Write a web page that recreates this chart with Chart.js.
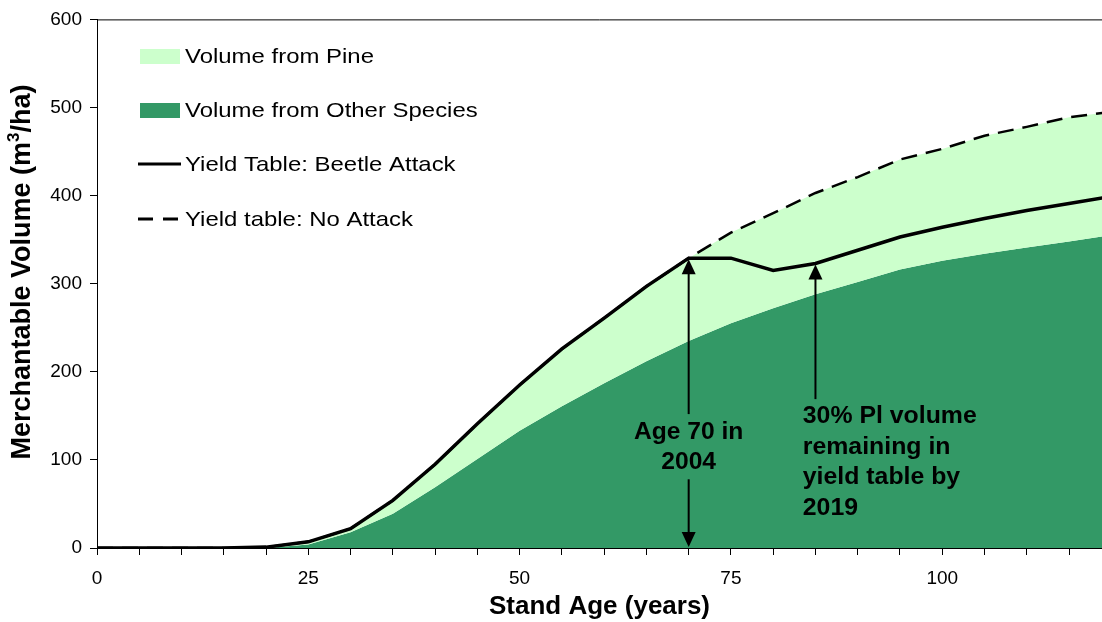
<!DOCTYPE html>
<html>
<head>
<meta charset="utf-8">
<script src="https://cdn.jsdelivr.net/npm/chart.js@4.4.1/dist/chart.umd.min.js"></script>
<style>
  html, body { margin: 0; padding: 0; background: #fff; }
  #chart { display: block; }
</style>
</head>
<body>
<canvas id="chart" width="1102" height="622"></canvas>
<script>
// stand age (years), one point every 5 years
const ages = [0, 5, 10, 15, 20, 25, 30, 35, 40, 45, 50, 55, 60, 65, 70, 75, 80, 85, 90, 95, 100, 105, 110, 115, 120];
// merchantable volume (m3/ha)
const beetleAttack = [0, 0, 0, 0, 1, 7, 22, 54, 95, 141, 185, 226, 261, 297, 329, 329, 315, 323, 338, 353, 364, 374, 383, 391, 399];
const noAttack = [0, 0, 0, 0, 1, 7, 22, 54, 95, 141, 185, 226, 261, 297, 329, 358, 380, 403, 421, 441, 453, 468, 478, 489, 495];
const otherSpecies = [0, 0, 0, 0, 0, 4, 18, 39, 69, 101, 133, 161, 187, 212, 235, 255, 272, 288, 302, 316, 326, 334, 341, 348, 355];

const yTicks = [0, 100, 200, 300, 400, 500, 600];
const xLabelEvery = 25;

const FONT = '"Liberation Sans", Arial, sans-serif';
const PINE = "#ccffcc";
const OTHER = "#339966";

const pts = (vals) => ages.map((a, i) => ({ x: a, y: vals[i] }));

// text a bit wider than the font, like the original export
function wideText(ctx, text, x, y, sx) {
  ctx.save();
  ctx.translate(x, y);
  ctx.scale(sx, 1);
  ctx.fillText(text, 0, 0);
  ctx.restore();
}

// legend drawn inside the plot, y title, arrows and notes
const overlay = {
  id: "overlay",
  afterDatasetsDraw(chart) {
    const { ctx, chartArea } = chart;
    const xs = chart.scales.x;
    const ys = chart.scales.y;
    ctx.save();

    // frame line on top of the plot
    ctx.strokeStyle = "#000";
    ctx.lineWidth = 1;
    ctx.beginPath();
    ctx.moveTo(chartArea.left, chartArea.top + 0.5);
    ctx.lineTo(chartArea.right, chartArea.top + 0.5);
    ctx.stroke();

    // legend
    const items = [
      { text: "Volume from Pine", kind: "box", color: PINE, y: 56 },
      { text: "Volume from Other Species", kind: "box", color: OTHER, y: 110 },
      { text: "Yield Table: Beetle Attack", kind: "line", dash: [], y: 164 },
      { text: "Yield table: No Attack", kind: "line", dash: [15, 10], y: 219 },
    ];
    ctx.font = "21px " + FONT;
    ctx.textBaseline = "middle";
    ctx.textAlign = "left";
    items.forEach((it) => {
      if (it.kind === "box") {
        ctx.fillStyle = it.color;
        ctx.fillRect(140, it.y - 7, 40, 15);
      } else {
        ctx.strokeStyle = "#000";
        ctx.lineWidth = 3;
        ctx.setLineDash(it.dash);
        ctx.beginPath();
        ctx.moveTo(138, it.y);
        ctx.lineTo(181, it.y);
        ctx.stroke();
        ctx.setLineDash([]);
      }
      ctx.fillStyle = "#000";
      wideText(ctx, it.text, 185, it.y + 1, 1.14);
    });

    // y axis title with superscript
    ctx.save();
    ctx.translate(23, 272);
    ctx.rotate(-Math.PI / 2);
    const big = "bold 27px " + FONT;
    const small = "bold 17px " + FONT;
    const parts = [["Merchantable Volume (m", big, 0], ["3", small, -9], ["/ha)", big, 0]];
    let total = 0;
    parts.forEach((p) => { ctx.font = p[1]; total += ctx.measureText(p[0]).width; });
    let cx = -total / 2;
    ctx.fillStyle = "#000";
    ctx.textAlign = "left";
    parts.forEach((p) => {
      ctx.font = p[1];
      ctx.fillText(p[0], cx, p[2]);
      cx += ctx.measureText(p[0]).width;
    });
    ctx.restore();

    const head = (px, tip, up) => {
      const d = up ? 1 : -1;
      ctx.beginPath();
      ctx.moveTo(px, tip);
      ctx.lineTo(px - 7, tip + d * 15);
      ctx.lineTo(px + 7, tip + d * 15);
      ctx.closePath();
      ctx.fill();
    };
    const seg = (px, a, b) => {
      ctx.beginPath();
      ctx.moveTo(px, a);
      ctx.lineTo(px, b);
      ctx.stroke();
    };

    ctx.strokeStyle = "#000";
    ctx.fillStyle = "#000";
    ctx.lineWidth = 2;

    // arrow at age 70
    const a1 = xs.getPixelForValue(70);
    const a1Top = ys.getPixelForValue(beetleAttack[ages.indexOf(70)]) + 1;
    const a1Bot = ys.getPixelForValue(0) - 1;
    head(a1, a1Top, true);
    head(a1, a1Bot, false);
    seg(a1, a1Top + 14, ys.getPixelForValue(152));
    seg(a1, ys.getPixelForValue(78), a1Bot - 14);

    // arrow at age 85
    const a2 = xs.getPixelForValue(85);
    const a2Top = ys.getPixelForValue(beetleAttack[ages.indexOf(85)]) + 1;
    head(a2, a2Top, true);
    seg(a2, a2Top + 14, ys.getPixelForValue(169));

    ctx.font = "bold 23px " + FONT;
    ctx.textAlign = "center";
    wideText(ctx, "Age 70 in", a1, ys.getPixelForValue(131), 1.07);
    wideText(ctx, "2004", a1, ys.getPixelForValue(97), 1.07);

    ctx.textAlign = "left";
    const note = ["30% Pl volume", "remaining in", "yield table by", "2019"];
    const nx = xs.getPixelForValue(83.5);
    note.forEach((t, i) => wideText(ctx, t, nx, ys.getPixelForValue(149 - i * 34.6), 1.08));

    ctx.restore();
  },
};

new Chart(document.getElementById("chart"), {
  type: "line",
  data: {
    datasets: [
      {
        label: "Yield Table: Beetle Attack",
        data: pts(beetleAttack),
        borderColor: "#000",
        borderWidth: 3.5,
        fill: false,
      },
      {
        label: "Yield table: No Attack",
        data: pts(noAttack),
        borderColor: "#000",
        borderWidth: 2.5,
        borderDash: [16, 9],
        fill: false,
      },
      {
        label: "Volume from Pine",
        data: pts(noAttack),
        borderWidth: 0,
        borderColor: "rgba(0,0,0,0)",
        backgroundColor: PINE,
        fill: 3,
      },
      {
        label: "Volume from Other Species",
        data: pts(otherSpecies),
        borderWidth: 0,
        borderColor: "rgba(0,0,0,0)",
        backgroundColor: OTHER,
        fill: "origin",
      },
    ],
  },
  options: {
    responsive: false,
    animation: false,
    devicePixelRatio: 1,
    layout: { padding: { top: 17, right: 0, bottom: 0, left: 0 } },
    elements: { point: { radius: 0 }, line: { tension: 0 } },
    plugins: { legend: { display: false }, tooltip: { enabled: false } },
    scales: {
      x: {
        type: "linear",
        min: 0,
        max: 118.9,
        afterFit: (s) => { s.height = 74; },
        border: { color: "#000", width: 1 },
        grid: { drawOnChartArea: false, color: "#000", tickLength: 7 },
        ticks: {
          stepSize: 5,
          includeBounds: false,
          autoSkip: false,
          maxRotation: 0,
          color: "#000",
          padding: 12,
          font: { family: FONT, size: 19 },
          callback: (v) => (v % xLabelEvery === 0 ? v : ""),
        },
        title: {
          display: true,
          text: "Stand Age (years)",
          color: "#000",
          font: { family: FONT, size: 26, weight: "bold" },
          padding: { top: 0, bottom: 0 },
        },
      },
      y: {
        min: yTicks[0],
        max: yTicks[yTicks.length - 1],
        afterFit: (s) => { s.width = 97; },
        afterBuildTicks: (s) => { s.ticks = yTicks.map((v) => ({ value: v })); },
        border: { color: "#000", width: 1 },
        grid: { drawOnChartArea: false, color: "#000", tickLength: 7 },
        ticks: {
          color: "#000",
          padding: 8,
          font: { family: FONT, size: 19 },
        },
      },
    },
  },
  plugins: [overlay],
});
</script>
</body>
</html>
